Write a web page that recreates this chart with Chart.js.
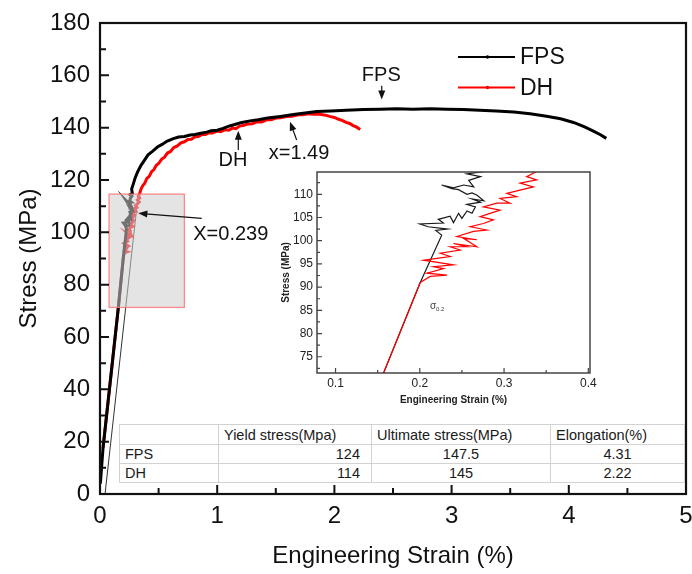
<!DOCTYPE html>
<html>
<head>
<meta charset="utf-8">
<script src="https://cdn.jsdelivr.net/npm/chart.js@4.4.1/dist/chart.umd.min.js"></script>
<style>
html,body{margin:0;padding:0;background:#fff;}
#wrap{position:relative;width:692px;height:574px;overflow:hidden;}
#main{position:absolute;left:0;top:0;}
#inset{position:absolute;left:262px;top:165px;}
#tbl{position:absolute;left:119px;top:424px;width:565px;border-collapse:collapse;border:1.5px solid #8a8a8a;background:#fff;
  font:14.5px 'Liberation Sans',Arial,sans-serif;color:#1a1a1a;table-layout:fixed;}
#tbl td{border:1px solid #d2d2d2;padding:0 5px;height:18px;line-height:18px;white-space:nowrap;overflow:hidden;}
</style>
</head>
<body>
<div id="wrap">
  <canvas id="main" width="692" height="574"></canvas>
  <canvas id="inset" width="340" height="245"></canvas>
  <table id="tbl"></table>
</div>
<script>
// ---------------- DATA ----------------
const seriesNames = ['FPS', 'DH'];

const fpsStrain = [
  0.003,0.026,0.157,0.200,0.226,0.219,0.233,0.210,0.200,0.228,
  0.222,0.236,0.240,0.246,0.250,0.256,0.262,0.266,0.256,0.272,
  0.262,0.276,0.268,0.262,0.256,0.246,0.238,0.226,0.240,0.252,
  0.264,0.258,0.272,0.256,0.276,0.270,0.285,0.300,0.320,0.350,
  0.380,0.410,0.450,0.490,0.530,0.570,0.620,0.670,0.720,0.770,
  0.810,0.860,0.910,0.950,1.000,1.050,1.100,1.150,1.210,1.280,
  1.350,1.430,1.540,1.650,1.750,1.850,1.970,2.100,2.250,2.390,
  2.530,2.670,2.820,2.960,3.100,3.240,3.380,3.530,3.670,3.810,
  3.930,4.040,4.130,4.210,4.270,4.320
];
const fpsStress = [
  4.0,17.6,71.5,90.8,101.2,102.2,102.5,103.0,103.6,103.8,
  104.6,105.3,103.9,105.9,104.8,106.4,105.9,107.3,107.8,108.3,
  109.0,108.6,109.8,110.3,110.0,111.0,111.2,112.0,111.4,112.0,
  111.6,113.0,113.8,114.4,114.9,116.5,118.6,120.8,123.0,125.6,
  127.6,129.6,131.0,132.6,133.6,134.8,135.7,136.4,136.6,137.2,
  137.4,137.9,138.3,138.8,139.0,139.7,140.6,141.2,142.0,142.6,
  143.0,143.7,144.3,145.0,145.6,146.2,146.4,146.7,146.9,147.0,
  147.2,147.0,147.2,147.0,146.9,146.7,146.4,146.0,145.3,144.4,
  143.4,142.0,140.4,138.7,137.3,135.9
];

const dhStrain = [
  0.026,0.157,0.2006,0.2124,0.2322,0.2085,0.2282,0.2164,0.2400,0.2045,
  0.2203,0.2361,0.2243,0.2479,0.2361,0.2558,0.2400,0.2677,0.2519,0.2677,
  0.2440,0.2637,0.2795,0.2598,0.2755,0.2874,0.2716,0.2834,0.2953,0.2755,
  0.2913,0.3071,0.2953,0.3150,0.3032,0.3190,0.3347,0.3190,0.3387,0.3268,
  0.3387,0.350,0.365,0.380,0.400,0.420,0.440,0.460,0.480,0.500,
  0.525,0.550,0.575,0.600,0.630,0.660,0.690,0.720,0.750,0.780,
  0.810,0.840,0.870,0.900,0.930,0.960,1.000,1.030,1.065,1.100,
  1.130,1.160,1.190,1.220,1.260,1.300,1.340,1.380,1.420,1.460,
  1.500,1.540,1.590,1.640,1.690,1.730,1.780,1.820,1.860,1.900,
  1.930,1.960,2.000,2.030,2.065,2.100,2.130,2.160,2.190,2.220
];
const dhStress = [
  17.6,71.5,91.0,92.3,92.6,93.0,94.0,94.4,94.8,95.8,
  96.2,96.6,97.3,98.0,98.7,98.7,99.4,98.7,100.5,100.2,
  100.9,102.0,102.3,103.0,103.7,104.5,105.2,105.9,106.6,107.3,
  108.1,108.1,109.1,109.5,110.2,110.9,111.6,112.4,113.1,113.8,
  114.9,116.5,117.9,118.6,120.6,121.4,123.2,124.0,125.6,126.3,
  127.9,128.7,130.3,130.8,132.4,133.0,134.2,134.6,135.5,135.6,
  136.5,136.6,137.4,137.4,138.1,138.0,138.7,138.5,139.2,139.0,
  139.9,139.6,140.6,140.8,141.4,141.5,142.3,142.2,143.0,143.0,
  143.7,143.8,144.3,144.4,144.9,144.9,145.3,145.1,145.2,144.9,
  144.7,144.3,143.9,143.3,142.8,142.0,141.6,140.8,140.2,139.3
];

// 0.2% offset construction line
const offsetStrain = [0.043, 0.325];
const offsetStress = [0, 114];

// zoomed region (strain range, stress range)
const zoomStrain = [0.077, 0.72];
const zoomStress = [71.3, 114.6];

// tick labels
const xTicks = [0, 1, 2, 3, 4, 5];
const yTicks = [0, 20, 40, 60, 80, 100, 120, 140, 160, 180];
const insetXTicks = [0.1, 0.2, 0.3, 0.4];
const insetYTicks = [75, 80, 85, 90, 95, 100, 105, 110];

const xTitle = 'Engineering Strain (%)';
const yTitle = 'Stress (MPa)';

// annotations (text centre, arrow tail, arrow tip) in data units
const annoTexts = ['FPS', 'DH', 'x=1.49', 'X=0.239'];
const annoAt    = [[2.40,159.8],[1.135,127.3],[1.698,130.2],[1.116,99.0]];
const annoFrom  = [[2.404,156.0],[1.18,131.5],[1.678,135.3],[0.868,105.3]];
const annoTo    = [[2.404,150.8],[1.18,138.8],[1.621,142.3],[0.327,107.3]];

// table
const tableHeader = ['', 'Yield stress(Mpa)', 'Ultimate stress(MPa)', 'Elongation(%)'];
const yieldStress = [124, 114];
const ultimateStress = [147.5, 145];
const elongation = [4.31, 2.22];

// ---------------- HELPERS ----------------
function zip(xs, ys) { return xs.map((x, i) => ({ x: x, y: ys[i] })); }
function minors(ticks, min, max) {
  const out = [];
  const step = ticks[1] - ticks[0];
  const cands = [ticks[0] - step / 2].concat(ticks.map(t => t + step / 2));
  cands.forEach(v => { if (v > min + 1e-9 && v < max - 1e-9) out.push(v); });
  return out;
}
function arrow(ctx, x1, y1, x2, y2, head, half) {
  const a = Math.atan2(y2 - y1, x2 - x1);
  ctx.beginPath();
  ctx.moveTo(x1, y1);
  ctx.lineTo(x2 - Math.cos(a) * head * 0.8, y2 - Math.sin(a) * head * 0.8);
  ctx.stroke();
  ctx.beginPath();
  ctx.moveTo(x2, y2);
  ctx.lineTo(x2 - Math.cos(a) * head + Math.sin(a) * half, y2 - Math.sin(a) * head - Math.cos(a) * half);
  ctx.lineTo(x2 - Math.cos(a) * head - Math.sin(a) * half, y2 - Math.sin(a) * head + Math.cos(a) * half);
  ctx.closePath();
  ctx.fill();
}

const FONT = "'Liberation Sans', Arial, Helvetica, sans-serif";
Chart.defaults.font.family = FONT;
Chart.defaults.color = '#111';
Chart.defaults.animation = false;

// ---------------- MAIN CHART ----------------
const mainDecor = {
  id: 'mainDecor',
  afterDatasetsDraw(chart) {
    const ctx = chart.ctx, ca = chart.chartArea;
    const xs = chart.scales.x, ys = chart.scales.y;
    ctx.save();
    // zoom rectangle (semi-transparent overlay)
    const rx1 = xs.getPixelForValue(zoomStrain[0]), rx2 = xs.getPixelForValue(zoomStrain[1]);
    const ry1 = ys.getPixelForValue(zoomStress[1]), ry2 = ys.getPixelForValue(zoomStress[0]);
    ctx.fillStyle = 'rgba(205,205,205,0.55)';
    ctx.fillRect(rx1, ry1, rx2 - rx1, ry2 - ry1);
    ctx.strokeStyle = 'rgba(255,120,120,0.85)';
    ctx.lineWidth = 1.3;
    ctx.strokeRect(rx1, ry1, rx2 - rx1, ry2 - ry1);

    // frame
    ctx.strokeStyle = '#111';
    ctx.lineWidth = 2.2;
    ctx.strokeRect(ca.left, ca.top, ca.right - ca.left, ca.bottom - ca.top);

    // inward ticks
    ctx.lineWidth = 2;
    ctx.beginPath();
    yTicks.forEach(v => { const p = ys.getPixelForValue(v); ctx.moveTo(ca.left, p); ctx.lineTo(ca.left + 9, p); });
    minors(yTicks, 0, 180).forEach(v => { const p = ys.getPixelForValue(v); ctx.moveTo(ca.left, p); ctx.lineTo(ca.left + 6, p); });
    xTicks.forEach(v => { const p = xs.getPixelForValue(v); ctx.moveTo(p, ca.bottom); ctx.lineTo(p, ca.bottom - 9); });
    minors(xTicks, 0, 5).forEach(v => { const p = xs.getPixelForValue(v); ctx.moveTo(p, ca.bottom); ctx.lineTo(p, ca.bottom - 6); });
    ctx.stroke();

    // annotations
    ctx.fillStyle = '#111';
    ctx.strokeStyle = '#111';
    ctx.lineWidth = 1.2;
    ctx.font = '20px ' + FONT;
    ctx.textAlign = 'center';
    ctx.textBaseline = 'middle';
    annoTexts.forEach((t, i) => {
      ctx.fillText(t, xs.getPixelForValue(annoAt[i][0]), ys.getPixelForValue(annoAt[i][1]));
      arrow(ctx, xs.getPixelForValue(annoFrom[i][0]), ys.getPixelForValue(annoFrom[i][1]),
                 xs.getPixelForValue(annoTo[i][0]), ys.getPixelForValue(annoTo[i][1]), 9, 3.5);
    });

    // legend
    const lx = ca.right - 228, ly = ca.top + 34, gap = 30.5;
    ctx.textAlign = 'left';
    ctx.font = '23px ' + FONT;
    [0, 1].forEach(i => {
      const ds = chart.data.datasets[i];
      const y = ly + gap * i;
      ctx.strokeStyle = ds.borderColor;
      ctx.fillStyle = ds.borderColor;
      ctx.lineWidth = 2;
      ctx.beginPath(); ctx.moveTo(lx, y); ctx.lineTo(lx + 57, y); ctx.stroke();
      ctx.beginPath(); ctx.arc(lx + 29.5, y, 1.8, 0, Math.PI * 2); ctx.fill();
      ctx.fillStyle = '#111';
      ctx.fillText(ds.label, lx + 62, y + 1);
    });
    ctx.restore();
  }
};

new Chart(document.getElementById('main'), {
  type: 'scatter',
  data: {
    datasets: [
      { label: seriesNames[0], data: zip(fpsStrain, fpsStress), showLine: true, borderColor: '#000000',
        backgroundColor: '#000000', borderWidth: 3, pointRadius: 0, tension: 0 },
      { label: seriesNames[1], data: zip(dhStrain, dhStress), showLine: true, borderColor: '#ff0000',
        backgroundColor: '#ff0000', borderWidth: 3, pointRadius: 0, tension: 0 },
      { label: 'offset', data: zip(offsetStrain, offsetStress), showLine: true, borderColor: '#333333',
        borderWidth: 1, pointRadius: 0 }
    ]
  },
  options: {
    responsive: false,
    animation: false,
    layout: { padding: { top: 23, right: 6, left: 0, bottom: 0 } },
    plugins: { legend: { display: false }, tooltip: { enabled: false } },
    scales: {
      x: {
        type: 'linear', min: 0, max: 5,
        grid: { display: false, drawTicks: false }, border: { display: false },
        ticks: { font: { size: 24 }, color: '#111', padding: 8, maxRotation: 0 },
        afterBuildTicks: s => { s.ticks = xTicks.map(v => ({ value: v })); },
        afterFit: s => { s.height = 80; s.paddingLeft = 0; s.paddingRight = 0; },
        title: { display: true, text: xTitle, font: { size: 24 }, color: '#111', padding: { top: 0, bottom: 3 } }
      },
      y: {
        type: 'linear', min: 0, max: 180,
        grid: { display: false, drawTicks: false }, border: { display: false },
        ticks: { font: { size: 24 }, color: '#111', padding: 10 },
        afterBuildTicks: s => { s.ticks = yTicks.map(v => ({ value: v })); },
        afterFit: s => { s.width = 100; s.paddingTop = 0; s.paddingBottom = 0; },
        title: { display: true, text: yTitle, font: { size: 24 }, color: '#111', padding: { top: 15, bottom: 0 } }
      }
    }
  },
  plugins: [mainDecor]
});

// ---------------- INSET CHART ----------------
const insetDecor = {
  id: 'insetDecor',
  beforeDraw(chart) {
    const ctx = chart.ctx, ca = chart.chartArea;
    ctx.save();
    ctx.fillStyle = '#fff';
    ctx.fillRect(ca.left, ca.top, ca.right - ca.left, ca.bottom - ca.top);
    ctx.restore();
  },
  afterDatasetsDraw(chart) {
    const ctx = chart.ctx, ca = chart.chartArea;
    const xs = chart.scales.x, ys = chart.scales.y;
    ctx.save();
    ctx.strokeStyle = '#444';
    ctx.lineWidth = 1.5;
    ctx.strokeRect(ca.left, ca.top, ca.right - ca.left, ca.bottom - ca.top);
    ctx.lineWidth = 1.2;
    ctx.beginPath();
    insetYTicks.forEach(v => { const p = ys.getPixelForValue(v); ctx.moveTo(ca.left, p); ctx.lineTo(ca.left + 5, p); });
    minors(insetYTicks, ys.min, ys.max).forEach(v => { const p = ys.getPixelForValue(v); ctx.moveTo(ca.left, p); ctx.lineTo(ca.left + 3, p); });
    insetXTicks.forEach(v => { const p = xs.getPixelForValue(v); ctx.moveTo(p, ca.bottom); ctx.lineTo(p, ca.bottom - 5); });
    minors(insetXTicks, xs.min, xs.max).forEach(v => { const p = xs.getPixelForValue(v); ctx.moveTo(p, ca.bottom); ctx.lineTo(p, ca.bottom - 3); });
    ctx.stroke();
    // sigma 0.2 label
    const sx = xs.getPixelForValue(0.212), sy = ys.getPixelForValue(85.8);
    ctx.fillStyle = '#444';
    ctx.textBaseline = 'middle';
    ctx.textAlign = 'left';
    ctx.font = '10px ' + FONT;
    ctx.fillText('σ', sx, sy);
    ctx.font = '6px ' + FONT;
    ctx.fillText('0.2', sx + 6, sy + 3);
    ctx.restore();
  }
};

new Chart(document.getElementById('inset'), {
  type: 'scatter',
  data: {
    datasets: [
      { label: seriesNames[1], data: zip(dhStrain, dhStress), showLine: true, borderColor: '#ff0000',
        borderWidth: 1.2, pointRadius: 0, tension: 0 },
      { label: seriesNames[0], data: zip(fpsStrain, fpsStress), showLine: true, borderColor: '#1a1a1a',
        borderWidth: 1.2, pointRadius: 0, tension: 0 }
    ]
  },
  options: {
    responsive: false,
    animation: false,
    layout: { padding: { top: 7, right: 12, left: 0, bottom: 0 } },
    plugins: { legend: { display: false }, tooltip: { enabled: false } },
    scales: {
      x: {
        type: 'linear', min: 0.078, max: 0.402,
        grid: { display: false, drawTicks: false }, border: { display: false },
        ticks: { font: { size: 12 }, color: '#222', padding: 3, maxRotation: 0,
                 callback: v => v.toFixed(1) },
        afterBuildTicks: s => { s.ticks = insetXTicks.map(v => ({ value: v })); },
        afterFit: s => { s.height = 37; s.paddingLeft = 0; s.paddingRight = 0; },
        title: { display: true, text: xTitle, font: { size: 10, weight: 'bold' }, color: '#222', padding: { top: 0, bottom: 4 } }
      },
      y: {
        type: 'linear', min: 71.5, max: 114.8,
        grid: { display: false, drawTicks: false }, border: { display: false },
        ticks: { font: { size: 12 }, color: '#222', padding: 4 },
        afterBuildTicks: s => { s.ticks = insetYTicks.map(v => ({ value: v })); },
        afterFit: s => { s.width = 55; s.paddingTop = 0; s.paddingBottom = 0; },
        title: { display: true, text: yTitle, font: { size: 10, weight: 'bold' }, color: '#222', padding: { top: 18, bottom: 0 } }
      }
    }
  },
  plugins: [insetDecor]
});

// ---------------- TABLE ----------------
(function buildTable() {
  const tbl = document.getElementById('tbl');
  const widths = [99, 153, 179, 134];
  let html = '<colgroup>' + widths.map(w => '<col style="width:' + w + 'px">').join('') + '</colgroup>';
  html += '<tr style="height:20px">' + tableHeader.map(h => '<td style="text-align:left">' + h + '</td>').join('') + '</tr>';
  seriesNames.forEach((n, i) => {
    html += '<tr style="height:19px"><td style="text-align:left">' + n + '</td>' +
      '<td style="text-align:right;padding-right:11px">' + yieldStress[i] + '</td>' +
      '<td style="text-align:center">' + ultimateStress[i] + '</td>' +
      '<td style="text-align:center">' + elongation[i] + '</td></tr>';
  });
  tbl.innerHTML = html;
})();
</script>
</body>
</html>
